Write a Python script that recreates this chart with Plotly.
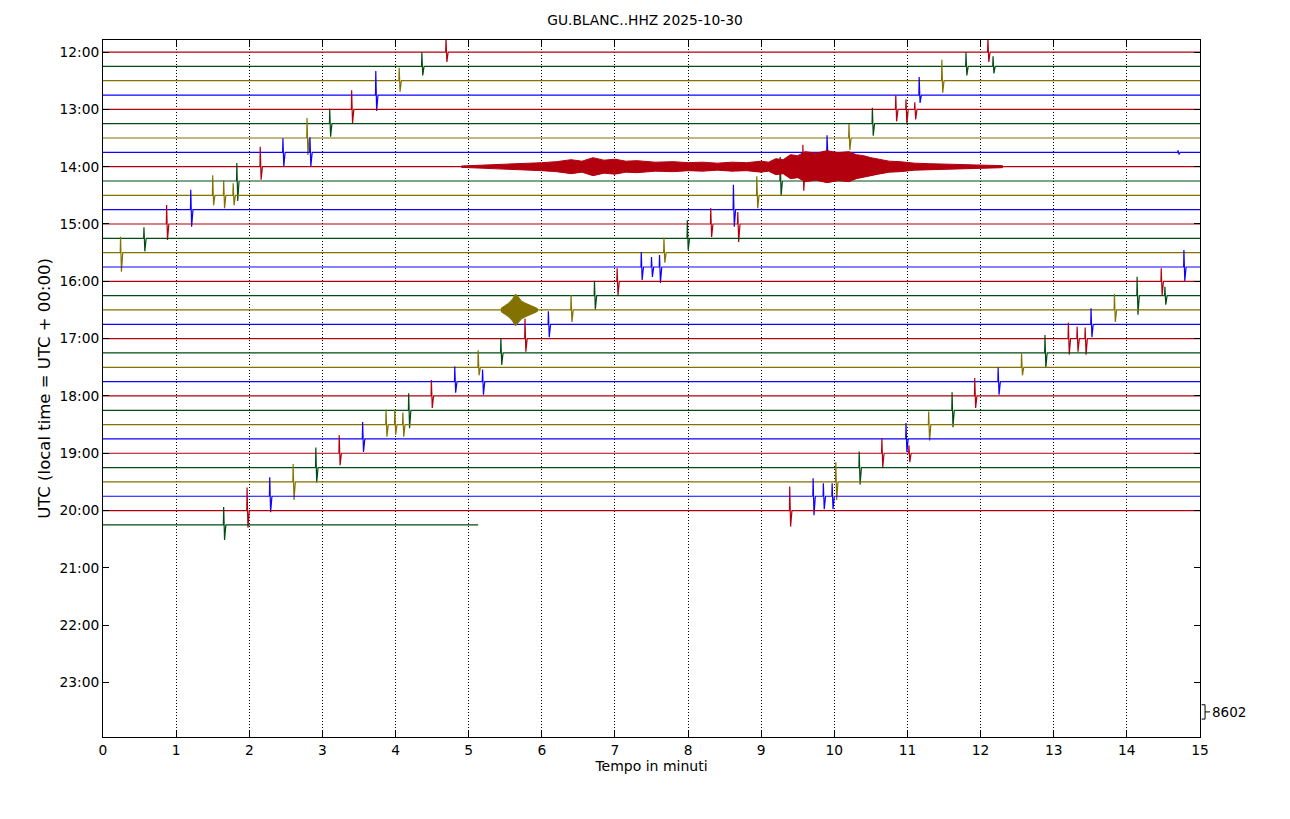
import plotly.graph_objects as go

# ---------------- data ----------------
STATION = "GU.BLANC..HHZ"
DATE = "2025-10-30"
SCALE_COUNTS = 8602          # counts represented by one row spacing (scale bar)

ROW_LABELS = ["12:00", "12:15", "12:30", "12:45", "13:00", "13:15", "13:30", "13:45",
              "14:00", "14:15", "14:30", "14:45", "15:00", "15:15", "15:30", "15:45",
              "16:00", "16:15", "16:30", "16:45", "17:00", "17:15", "17:30", "17:45",
              "18:00", "18:15", "18:30", "18:45", "19:00", "19:15", "19:30", "19:45",
              "20:00", "20:15"]
LAST_ROW_END_MIN = 5.13      # the data stops part way through the last row
ROW_COLORS = ["#B2000F", "#004C12", "#847200", "#0E01FF"]

Y_TICK_LABELS = ["12:00", "13:00", "14:00", "15:00", "16:00", "17:00",
                 "18:00", "19:00", "20:00", "21:00", "22:00", "23:00"]
X_TICKS = list(range(0, 16))

# spikes: (minute, peak above baseline [counts], peak below baseline [counts])
SPIKES = {
    "12:00": [(4.69, 8400, 6000), (12.10, 8400, 6000)],
    "12:15": [(4.36, 8400, 5400), (11.80, 8400, 5400), (12.17, 6000, 4200)],
    "12:30": [(4.05, 7800, 6600), (11.47, 12600, 7200)],
    "12:45": [(3.73, 14400, 9600), (11.16, 10800, 4800)],
    "13:00": [(3.40, 11400, 8400), (10.84, 8400, 7200), (10.98, 6000, 9000), (11.10, 4200, 6000)],
    "13:15": [(3.10, 9000, 7800), (10.52, 9600, 7200)],
    "13:30": [(2.79, 12000, 10200), (10.20, 8400, 7200)],
    "13:45": [(2.46, 8400, 8400), (2.83, 9000, 8400), (9.90, 10200, 2400), (14.70, 1200, 1200)],
    "14:00": [(2.15, 12000, 7800), (9.57, 13200, 14400)],
    "14:15": [(1.83, 10800, 12000), (9.26, 14400, 9000)],
    "14:30": [(1.50, 12000, 6000), (1.65, 9000, 7800), (1.78, 7200, 6000), (8.94, 11400, 7800)],
    "14:45": [(1.20, 12000, 10200), (8.62, 15000, 10200)],
    "15:00": [(0.87, 11400, 9600), (8.31, 9600, 7800), (8.68, 7200, 10800)],
    "15:15": [(0.56, 6600, 7800), (7.99, 10800, 7200)],
    "15:30": [(0.24, 9600, 11400), (7.67, 9000, 6000)],
    "15:45": [(7.36, 9000, 7800), (7.50, 6000, 6000), (7.61, 7200, 9600), (14.78, 10200, 8400)],
    "16:00": [(7.03, 7800, 8400), (14.47, 7800, 8400)],
    "16:15": [(6.72, 9000, 8400), (14.14, 11400, 11400), (14.52, 5400, 5400)],
    "16:30": [(6.40, 9000, 7200), (13.83, 9600, 7200)],
    "16:45": [(6.09, 7800, 7800), (13.51, 9600, 7800)],
    "17:00": [(5.77, 12000, 7800), (13.20, 9600, 9600), (13.32, 7200, 7800), (13.43, 6600, 9600)],
    "17:15": [(5.44, 9000, 7200), (12.88, 10800, 9000)],
    "17:30": [(5.13, 10200, 4800), (12.56, 8400, 4800)],
    "17:45": [(4.81, 9000, 6600), (5.19, 7200, 7800), (12.24, 8400, 7800)],
    "18:00": [(4.49, 9600, 7200), (11.92, 10800, 7200)],
    "18:15": [(4.18, 10200, 10800), (11.61, 10800, 10200)],
    "18:30": [(3.87, 9000, 7200), (3.99, 9000, 6000), (4.10, 7200, 7200), (11.29, 7800, 9600)],
    "18:45": [(3.55, 10200, 7800), (10.98, 9600, 7800)],
    "19:00": [(3.23, 10800, 7200), (10.65, 9000, 8400), (11.02, 4800, 5400)],
    "19:15": [(2.91, 12000, 9000), (10.34, 9600, 10200)],
    "19:30": [(2.60, 10800, 10800), (10.02, 12000, 10800)],
    "19:45": [(2.28, 11400, 9600), (9.71, 10800, 11400), (9.85, 7800, 7800), (9.97, 7800, 7800)],
    "20:00": [(1.97, 13800, 10200), (9.39, 14400, 9600)],
    "20:15": [(1.65, 10800, 9000)],
}

# tremor envelopes (half amplitude in counts)
TREMOR_1400_MIN = [4.9, 5.2, 5.4, 5.7, 6.0, 6.2, 6.4, 6.55, 6.7, 6.85, 7.0, 7.15, 7.3,
                   7.55, 7.8, 8.0, 8.2, 8.4, 8.6, 8.8, 9.0, 9.1, 9.2, 9.3, 9.4, 9.5,
                   9.6, 9.75, 9.9, 10.05, 10.2, 10.3, 10.4, 10.5, 10.6, 10.75, 10.9,
                   11.1, 11.3, 11.55, 11.8, 12.05, 12.3]
TREMOR_1400_AMP = [400, 900, 1200, 1800, 2400, 3000, 4200, 3300, 5400, 3900, 4500, 3300, 3600,
                   2700, 3000, 2400, 2700, 2100, 2700, 2400, 3300, 2700, 4800, 4200, 7200, 6600,
                   9000, 8100, 9600, 8400, 9000, 7200, 6600, 5400, 4500, 3300, 3000,
                   2100, 1800, 1500, 1200, 900, 600]
TREMOR_1630_MIN = [5.44, 5.50, 5.55, 5.60, 5.64, 5.68, 5.72, 5.77, 5.84, 5.94]
TREMOR_1630_AMP = [900, 2700, 4200, 6600, 9600, 7800, 5400, 4200, 2700, 900]

# ---------------- figure ----------------
fig = go.Figure()
n_rows = len(ROW_LABELS)

for i, label in enumerate(ROW_LABELS):
    c = -i
    color = ROW_COLORS[i % 4]
    end = LAST_ROW_END_MIN if i == n_rows - 1 else 15.0
    xs, ys = [0.0], [c]
    for t, up, dn in sorted(SPIKES.get(label, [])):
        xs += [t - 0.004, t, t + 0.012, t + 0.03]
        ys += [c, c + up / SCALE_COUNTS, c - dn / SCALE_COUNTS, c]
    xs.append(end)
    ys.append(c)
    fig.add_trace(go.Scatter(x=xs, y=ys, mode="lines",
                             line=dict(color=color, width=1.2),
                             hoverinfo="skip", showlegend=False))

for label, tmin, tamp in [("14:00", TREMOR_1400_MIN, TREMOR_1400_AMP),
                          ("16:30", TREMOR_1630_MIN, TREMOR_1630_AMP)]:
    i = ROW_LABELS.index(label)
    c = -i
    color = ROW_COLORS[i % 4]
    xs = list(tmin) + list(reversed(tmin))
    ys = [c + a / SCALE_COUNTS for a in tamp] + [c - a / SCALE_COUNTS for a in reversed(tamp)]
    fig.add_trace(go.Scatter(x=xs, y=ys, mode="lines", fill="toself",
                             fillcolor=color, line=dict(color=color, width=1),
                             hoverinfo="skip", showlegend=False))

# scale bar (one row spacing == SCALE_COUNTS counts)
bar_center = -46.05
half = 0.5 * SCALE_COUNTS / SCALE_COUNTS
fig.add_shape(type="path", xref="paper", yref="y",
              path=f"M 1.0015,{bar_center + half} L 1.0046,{bar_center + half} "
                   f"L 1.0046,{bar_center - half} L 1.0015,{bar_center - half} "
                   f"M 1.0046,{bar_center} L 1.0091,{bar_center}",
              line=dict(color="black", width=1))
fig.add_annotation(xref="paper", yref="y", x=1.0095, y=bar_center, text=str(SCALE_COUNTS),
                   showarrow=False, xanchor="left", yanchor="middle",
                   font=dict(size=13.5, color="black"))

# the page body adds an 8px offset; margins compensate so the plot area sits at 103..1200 x 40..737
fig.update_layout(
    width=1290, height=819,
    margin=dict(l=95, r=98, t=32, b=90),
    paper_bgcolor="white", plot_bgcolor="white",
    font=dict(family="DejaVu Sans", color="black", size=13.5),
    title=dict(text=f"{STATION} {DATE}", x=(645 - 8) / 1290, xref="container", xanchor="center",
               y=1 - 12 / 819, yref="container", yanchor="middle",
               font=dict(size=13.8, color="black")),
    showlegend=False,
)
fig.update_xaxes(range=[0, 15], tickvals=X_TICKS, ticktext=[str(v) for v in X_TICKS],
                 ticks="inside", ticklen=6, tickcolor="black", mirror="ticks",
                 showline=True, linecolor="black", linewidth=1,
                 showgrid=True, gridcolor="black", griddash="1px,2px", gridwidth=0.8,
                 zeroline=False,
                 title=dict(text="Tempo in minuti", standoff=4, font=dict(size=14)),
                 tickfont=dict(size=13.8))
fig.update_yaxes(range=[-47.8, 0.84],
                 tickvals=[-4 * k for k in range(len(Y_TICK_LABELS))],
                 ticktext=Y_TICK_LABELS,
                 ticks="inside", ticklen=6, tickcolor="black", mirror="ticks",
                 ticklabelstandoff=0,
                 showline=True, linecolor="black", linewidth=1,
                 showgrid=False, zeroline=False,
                 title=dict(text="UTC (local time = UTC + 00:00)", standoff=4,
                            font=dict(size=16.5)),
                 tickfont=dict(size=13.8))

fig.write_html("out.html")
